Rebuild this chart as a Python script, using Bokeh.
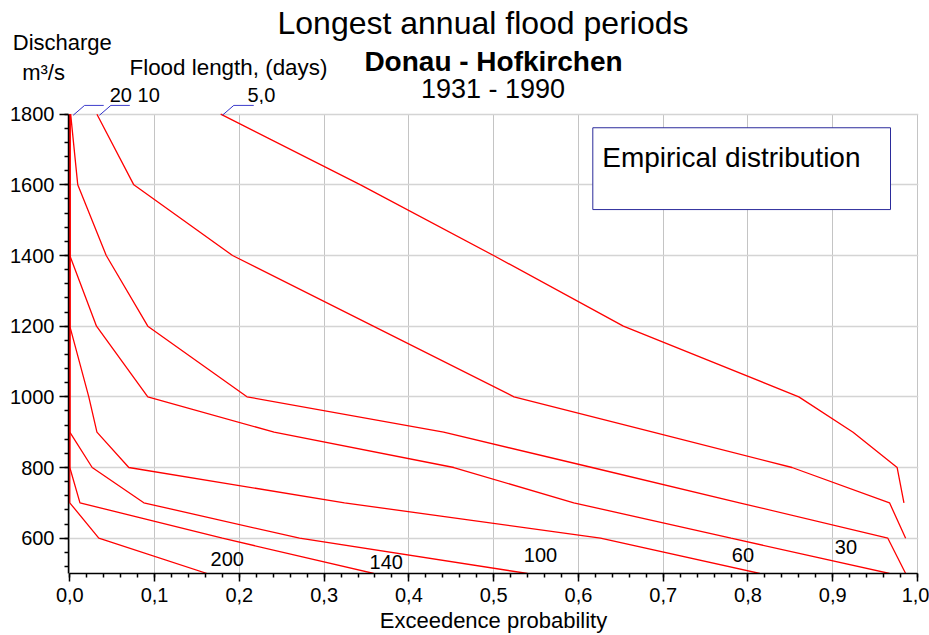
from bokeh.plotting import figure
from bokeh.layouts import column
from bokeh.models import (ColumnDataSource, Range1d, SingleIntervalTicker,
                          CustomJSTickFormatter, Label, BoxAnnotation)
from bokeh.embed import file_html
from bokeh.resources import INLINE
from bokeh.core.properties import value

FONT = "Liberation Sans"

# ---------------- data ----------------
d5_x = [0.178, 0.343, 0.500, 0.653, 0.860, 0.924, 0.976, 0.984]
d5_y = [1800, 1600, 1400, 1200, 1000, 900, 800, 700]
d10_x = [0.032, 0.0755, 0.192, 0.358, 0.524, 0.688, 0.852, 0.967, 0.986]
d10_y = [1800, 1600, 1400, 1200, 1000, 900, 800, 700, 600]
d20_x = [0.001, 0.0094, 0.043, 0.092, 0.209, 0.441, 0.616, 0.790, 0.965, 0.986]
d20_y = [1800, 1600, 1400, 1200, 1000, 900, 800, 700, 600, 500]
d30_x = [0.0, 0.0, 0.0315, 0.092, 0.241, 0.453, 0.5945, 0.780, 0.967]
d30_y = [1800, 1400, 1200, 1000, 900, 800, 700, 600, 500]
d60_x = [0.0, 0.0, 0.0224, 0.032, 0.0696, 0.324, 0.626, 0.814]
d60_y = [1800, 1200, 1000, 900, 800, 700, 600, 500]
d100_x = [0.0, 0.0, 0.0264, 0.0873, 0.271, 0.540]
d100_y = [1800, 900, 800, 700, 600, 500]
d140_x = [0.0, 0.0, 0.012, 0.180, 0.3586]
d140_y = [1800, 800, 700, 600, 500]
d200_x = [0.0, 0.0, 0.0342, 0.162]
d200_y = [1800, 700, 600, 500]

curves_x = [d5_x, d10_x, d20_x, d30_x, d60_x, d100_x, d140_x, d200_x]
curves_y = [d5_y, d10_y, d20_y, d30_y, d60_y, d100_y, d140_y, d200_y]

low_label_text = ["200", "140", "100", "60", "30"]
low_label_x = [0.166, 0.3536, 0.5356, 0.781, 0.9025]
low_label_y = [520, 512, 533, 533, 554]

top_label_text = ["20", "10", "5,0"]
top_label_x = [0.047, 0.0799, 0.2096]
leader_x0 = [0.004, 0.035, 0.180]
leader_x1 = [0.0175, 0.0485, 0.1935]
leader_x2 = [0.040, 0.0708, 0.217]
leader_y0 = [1797, 1797, 1797]
leader_y1 = [1825, 1825, 1825]

X0, X1, Y0, Y1 = 0.0, 1.0, 500, 1800

# ---------------- layout (page pixels) ----------------
W, HH = 929, 104          # header strip
H = 635 - HH              # main figure
PX0, PX1 = 69.3, 917.0    # pixel of x=0 and x=1
PY1 = 113.7               # pixel of y=1800
FL, FR, FT, FB = 68, 918, HH, 574   # frame edges (page)
PXU = (FB - PY1) / (Y1 - Y0)        # pixels per y unit
MID = 0.35                          # baseline offset of a "middle" anchored text (em)


def dx(px):
    return X0 + (px - PX0) / (PX1 - PX0) * (X1 - X0)


def dy(py):
    return Y1 - (py - PY1) / PXU


# ---------------- main figure ----------------
p = figure(width=W, height=H, output_backend="svg", toolbar_location=None,
           x_range=Range1d(dx(FL), dx(FR)), y_range=Range1d(Y0, dy(FT)),
           min_border_left=FL, min_border_right=W - FR,
           min_border_top=0, min_border_bottom=H - (FB - HH))
p.frame_align = False
p.background_fill_color = "white"
p.border_fill_color = "white"
p.outline_line_color = None

xt = SingleIntervalTicker(interval=0.1, num_minor_ticks=5)
yt = SingleIntervalTicker(interval=200, num_minor_ticks=5)
p.xaxis.ticker = xt
p.yaxis.ticker = yt
p.xgrid.ticker = xt
p.ygrid.ticker = yt
p.xaxis.formatter = CustomJSTickFormatter(code="return tick.toFixed(1).replace('.', ',');")
p.yaxis.bounds = (Y0, Y1)
p.xaxis.bounds = (X0, X1)
p.xgrid.cross_bounds = (Y0, Y1)

for ax in (p.xaxis[0], p.yaxis[0]):
    ax.axis_line_color = "black"
    ax.axis_line_width = 1.5
    ax.major_tick_line_color = "black"
    ax.minor_tick_line_color = "black"
    ax.major_tick_line_width = 1.5
    ax.minor_tick_line_width = 1.5
    ax.major_tick_in = 0
    ax.minor_tick_in = 0
    ax.major_tick_out = 8
    ax.minor_tick_out = 4
    ax.major_label_text_font = FONT
    ax.major_label_text_font_size = "20px"
    ax.major_label_text_color = "black"
p.xaxis.major_label_standoff = 6
p.yaxis.major_label_standoff = 5
p.yaxis.major_tick_out = 9
p.xaxis.axis_label = "Exceedence probability"
p.xaxis.axis_label_text_font = FONT
p.xaxis.axis_label_text_font_size = "22px"
p.xaxis.axis_label_text_font_style = "normal"
p.xaxis.axis_label_text_color = "black"
p.xaxis.axis_label_standoff = 3

p.xgrid.grid_line_color = "#c4c4c4"
p.xgrid.grid_line_width = 1
p.ygrid.grid_line_color = "#d4d4d4"
p.ygrid.grid_line_width = 1.5

for cx, cy in zip(curves_x, curves_y):
    p.line(cx, cy, line_color="#ff0000", line_width=1.3)

low_src = ColumnDataSource(dict(x=low_label_x,
                                y=[v + MID * 20 / PXU for v in low_label_y],
                                t=low_label_text))
p.text(x="x", y="y", text="t", source=low_src, text_font=value(FONT),
       text_font_size=value("20px"), text_color="black",
       text_align="left", text_baseline="middle")

lead_src = ColumnDataSource(dict(x0=leader_x0 + leader_x1, y0=leader_y0 + leader_y1,
                                 x1=leader_x1 + leader_x2, y1=leader_y1 + leader_y1))
p.segment(x0="x0", y0="y0", x1="x1", y1="y1", source=lead_src,
          line_color="#3030c8", line_width=1)

p.add_layout(BoxAnnotation(left=dx(592.3), right=dx(890), top=dy(127.3), bottom=dy(209.3),
                           fill_color="white", fill_alpha=1.0,
                           line_color="#2b2b9b", line_width=1, line_alpha=1.0))
p.add_layout(Label(x=dx(601.7), y=dy(166.7 - MID * 28), text="Empirical distribution",
                   text_font=FONT, text_font_size="28px", text_color="black",
                   text_align="left", text_baseline="middle"))

# ---------------- header strip ----------------
h = figure(width=W, height=HH, output_backend="svg", toolbar_location=None,
           x_range=Range1d(dx(0), dx(W)), y_range=Range1d(HH, 0),
           x_axis_type=None, y_axis_type=None,
           min_border_left=0, min_border_right=0, min_border_top=0, min_border_bottom=0)
h.frame_align = False
h.grid.visible = False
h.outline_line_color = None
h.background_fill_color = "white"
h.border_fill_color = "white"

head_text = ["Longest annual flood periods", "Donau - Hofkirchen", "1931 - 1990",
             "Discharge", "m³/s", "Flood length, (days)"]
head_px = [482.5, 493.0, 492.5, 12.3, 21.7, 129.0]
head_base = [33.3, 71.0, 97.5, 50.0, 80.0, 75.0]
head_size = [32, 28, 27, 22, 22, 22.4]
head_style = ["normal", "bold", "normal", "normal", "normal", "normal"]
head_align = ["center", "center", "center", "left", "left", "left"]
hsrc = ColumnDataSource(dict(x=[dx(v) for v in head_px],
                             y=[b - MID * s for b, s in zip(head_base, head_size)],
                             t=head_text, s=["%spx" % s for s in head_size],
                             st=head_style, a=head_align))
h.text(x="x", y="y", text="t", source=hsrc, text_font=value(FONT),
       text_font_size="s", text_font_style="st", text_align="a",
       text_baseline="middle", text_color="black")

tsrc = ColumnDataSource(dict(x=top_label_x, y=[101.0 - MID * 20] * len(top_label_x),
                             t=top_label_text))
h.text(x="x", y="y", text="t", source=tsrc, text_font=value(FONT),
       text_font_size=value("20px"), text_align="left", text_baseline="middle",
       text_color="black")

layout = column(h, p, spacing=0)
open("out.html", "w").write(file_html(layout, INLINE))
